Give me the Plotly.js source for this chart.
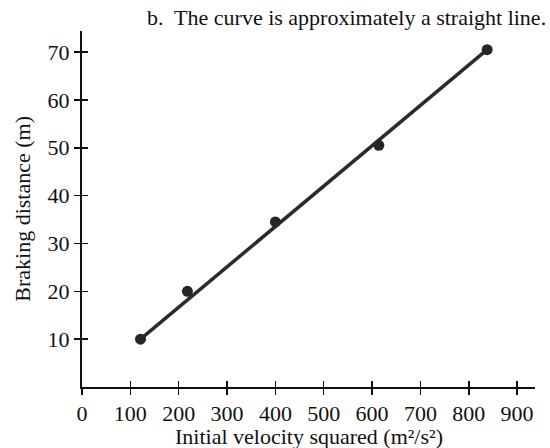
<!DOCTYPE html>
<html>
<head>
<meta charset="utf-8">
<script src="https://cdn.plot.ly/plotly-3.0.1.min.js"></script>
<style>html,body{margin:0;padding:0;background:#fff;}#chart{width:550px;height:448px;}</style>
</head>
<body>
<div id="chart"></div>
<script>
// Data
var velocitySquared = [121, 218, 400, 614, 838];
var brakingDistance = [10, 20, 34.5, 50.5, 70.5];
// Straight line drawn through the data (endpoints)
var lineX = [121, 838];
var lineY = [10, 70.5];
var xTickVals = [0, 100, 200, 300, 400, 500, 600, 700, 800, 900];
var xTickText = ["0", "100", "200", "300", "400", "500", "600", "700", "800", "900"];
var yTickVals = [10, 20, 30, 40, 50, 60, 70];
var yTickText = ["10", "20", "30", "40", "50", "60", "70"];

var serif = "Liberation Serif, Times New Roman, serif";
var ink = "#111";
var xRange = [0, 937];
var yRange = [0, 74.4];

var traces = [
  {x: lineX, y: lineY, mode: "lines", line: {color: "#2b2b2b", width: 3.5}, hoverinfo: "skip"},
  {x: velocitySquared, y: brakingDistance, mode: "markers",
   marker: {color: "#262626", size: 11, line: {width: 0}}}
];

var layout = {
  width: 550, height: 448,
  paper_bgcolor: "#fff", plot_bgcolor: "#fff",
  showlegend: false,
  margin: {l: 82, r: 15, t: 31, b: 61},
  font: {family: serif, size: 22, color: ink},
  title: {text: "b.  The curve is approximately a straight line.",
          font: {family: serif, size: 22, color: ink},
          x: 0.993, xref: "container", xanchor: "right", y: 0.962, yref: "container", yanchor: "middle"},
  xaxis: {range: xRange, showgrid: false, zeroline: false, showline: true, linecolor: ink, linewidth: 2,
          ticks: "outside", ticklen: 6, tickwidth: 1.5, tickcolor: ink,
          tickmode: "array", tickvals: xTickVals, ticktext: xTickText,
          tickfont: {family: serif, size: 22, color: ink}, automargin: false},
  yaxis: {range: yRange, showgrid: false, zeroline: false, showline: true, linecolor: ink, linewidth: 2,
          ticks: "outside", ticklen: 6, tickwidth: 1.5, tickcolor: ink,
          tickmode: "array", tickvals: yTickVals, ticktext: yTickText,
          tickfont: {family: serif, size: 22, color: ink}, automargin: false},
  xaxis2: {overlaying: "x", range: xRange, showgrid: false, zeroline: false, showline: false,
           ticks: "inside", ticklen: 6, tickwidth: 1.5, tickcolor: ink,
           tickmode: "array", tickvals: xTickVals.slice(1), showticklabels: false, side: "bottom", anchor: "y"},
  yaxis2: {overlaying: "y", range: yRange, showgrid: false, zeroline: false, showline: false,
           ticks: "inside", ticklen: 6, tickwidth: 1.5, tickcolor: ink,
           tickmode: "array", tickvals: yTickVals, showticklabels: false, side: "left", anchor: "x"},
  annotations: [
    {text: "Initial velocity squared (m²/s²)", xref: "paper", yref: "paper",
     x: 0.5, y: -0.14, xanchor: "center", yanchor: "middle", showarrow: false,
     font: {family: serif, size: 22, color: ink}},
    {text: "Braking distance (m)", xref: "paper", yref: "paper", textangle: -90,
     x: -0.133, y: 0.5, xanchor: "center", yanchor: "middle", showarrow: false,
     font: {family: serif, size: 22, color: ink}}
  ]
};
traces.push({x: [xRange[0]], y: [yRange[0]], xaxis: "x2", yaxis: "y2", mode: "markers", marker: {opacity: 0}, hoverinfo: "skip"});

Plotly.newPlot("chart", traces, layout, {displayModeBar: false, staticPlot: true});
</script>
</body>
</html>
